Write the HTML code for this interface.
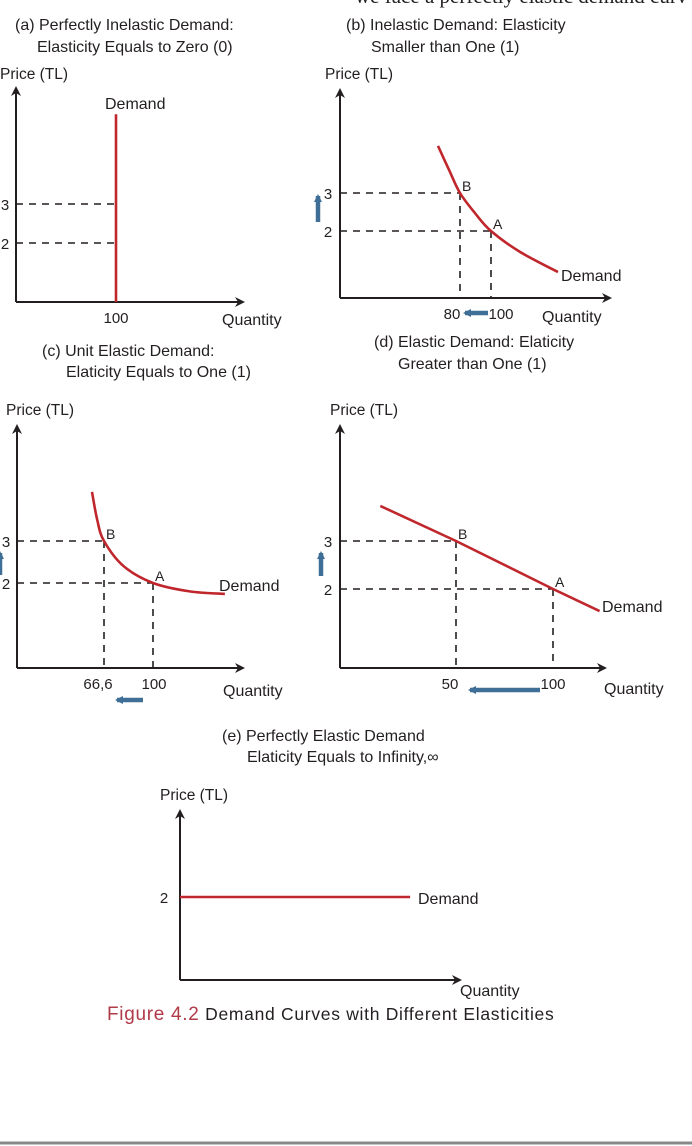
<!DOCTYPE html>
<html><head><meta charset="utf-8">
<style>
html,body{margin:0;padding:0;background:#fff;width:692px;height:1146px;overflow:hidden}
svg{display:block}
text{font-family:"Liberation Sans",sans-serif;fill:#231f20}
</style></head>
<body>
<svg id="fig" width="692" height="1146" viewBox="0 0 692 1146" xmlns="http://www.w3.org/2000/svg">
<defs>
<marker id="ah" markerWidth="10" markerHeight="10" refX="8" refY="5" orient="auto" markerUnits="userSpaceOnUse"><path d="M0,0 L10,5 L0,10 L3,5 z" fill="#231f20"/></marker>
<marker id="bh" markerWidth="8" markerHeight="8" refX="6" refY="4" orient="auto" markerUnits="userSpaceOnUse"><path d="M0,0 L8,4 L0,8 z" fill="#3f6e96"/></marker>
</defs>
<text x="355" y="3" style="font-family:'Liberation Serif',serif" font-size="21">we face a perfectly elastic demand curv</text>
<line x1="0" y1="1143" x2="692" y2="1143" stroke="#888" stroke-width="3"/>
<text x="107" y="1020" font-size="17.5" letter-spacing="0.7"><tspan style="fill:#b03a48" font-size="19">Figure 4.2</tspan> Demand Curves with Different Elasticities</text>
</svg>
<script>
// Panel data
const pricesA = [3, 2];
const qtyA = [100];
const demandA = [[100, 0], [100, 5.3]];
const pricesB = [3, 2];
const qtyB = [80, 100];
const curveB = [[65.8, 4.24], [72.9, 3.61], [80, 3], [89.7, 2.47], [100, 2], [118.7, 1.45], [143.2, 0.92]];
const pricesC = [3, 2];
const qtyC = [66.6, 100];
const qtyLabelsC = ["66,6", "100"];
const curveC = [[58.4, 4.17], [62, 3.5], [66.6, 3], [80, 2.4], [100, 2], [125, 1.8], [149, 1.74]];
const pricesD = [3, 2];
const qtyD = [50, 100];
const lineD = [[11, 3.73], [50, 3], [100, 2], [124, 1.54]];
const pricesE = [2];
const demandE = [[0, 2], [118, 2]];

const svg = document.getElementById('fig');
const NS = 'http://www.w3.org/2000/svg';
function mk(tag, attrs, txt){const e=document.createElementNS(NS,tag);for(const k in attrs)e.setAttribute(k,attrs[k]);if(txt!==undefined)e.textContent=txt;svg.appendChild(e);return e;}
const RED='#c0272d', BLUE='#3f6e96', INK='#231f20';

function panel(p){
  const X=q=>p.x0+(q-p.q0)*p.sx, Y=v=>p.y0-(v-p.p0)*p.sy;
  let e;
  p.titles.forEach((t,i)=>{e=mk('text',{x:t[0],y:t[1],'font-size':16},t[2]);
  
  });
  e=mk('text',{x:p.plx,y:p.ply,'font-size':15.5},'Price (TL)');
  
  
  e=mk('line',{x1:p.ax,y1:p.ay,x2:p.ax,y2:p.atop,stroke:INK,'stroke-width':2,'marker-end':'url(#ah)'});
  
  
  e=mk('line',{x1:p.ax,y1:p.ay,x2:p.aright,y2:p.ay,stroke:INK,'stroke-width':2,'marker-end':'url(#ah)'});
  
  
  e=mk('text',{x:p.qlx,y:p.qly,'font-size':16},'Quantity');
  
  
  p.prices.forEach((v,i)=>{
    const xe = p.guideX ? X(p.guideX[i]) : X(p.vline);
    e=mk('line',{x1:p.ax,y1:Y(v),x2:xe,y2:Y(v),stroke:INK,'stroke-width':1.6,'stroke-dasharray':'7,6'});
    
    
    e=mk('text',{x:p.ax-(p.tickOff||12),y:Y(v)+6,'font-size':15,'text-anchor':'middle'},String(v));
    
    
  });
  if(p.qty){p.qty.forEach((q,i)=>{
    if(p.vguides){e=mk('line',{x1:X(q),y1:Y(p.prices[i]),x2:X(q),y2:p.ay,stroke:INK,'stroke-width':1.6,'stroke-dasharray':'7,6'});
    
    }
    e=mk('text',{x:X(q)+(p.qoff?p.qoff[i]:0),y:p.ay+21,'font-size':15,'text-anchor':'middle'},p.qlabels?p.qlabels[i]:String(q));
    
    
  });}
  const pts=p.curve.map(c=>[X(c[0]),Math.min(Y(c[1]),p.ay)]);
  let d='M'+pts[0][0]+','+pts[0][1];
  if(p.smooth){for(let i=0;i<pts.length-1;i++){const p0=pts[Math.max(0,i-1)],p1=pts[i],p2=pts[i+1],p3=pts[Math.min(pts.length-1,i+2)];
    d+=' C'+(p1[0]+(p2[0]-p0[0])/6)+','+(p1[1]+(p2[1]-p0[1])/6)+' '+(p2[0]-(p3[0]-p1[0])/6)+','+(p2[1]-(p3[1]-p1[1])/6)+' '+p2[0]+','+p2[1];}}
  else pts.slice(1).forEach(q=>d+=' L'+q[0]+','+q[1]);
  e=mk('path',{d:d,fill:'none',stroke:RED,'stroke-width':2.6});
  
  
  e=mk('text',{x:p.dlx,y:p.dly,'font-size':16},'Demand');
  
  
  if(p.points){p.points.forEach(pt=>{
    e=mk('text',{x:X(pt[1])+2,y:Y(pt[2])-2,'font-size':14},pt[0]);
    
    });}
  if(p.upArrow){e=mk('line',{x1:p.upArrow[0],y1:p.upArrow[1],x2:p.upArrow[0],y2:p.upArrow[2],stroke:BLUE,'stroke-width':4.5,'marker-end':'url(#bh)'});
    
    }
  if(p.leftArrow){e=mk('line',{x1:p.leftArrow[0],y1:p.leftArrow[2],x2:p.leftArrow[1],y2:p.leftArrow[2],stroke:BLUE,'stroke-width':4.5,'marker-end':'url(#bh)'});
    
    }
}

panel({id:'panel-a',titles:[[15,30,'(a) Perfectly Inelastic Demand:'],[37,52,'Elasticity Equals to Zero (0)']],
 plx:0,ply:79,ax:16,ay:302,atop:88,aright:243,qlx:222,qly:325,
 x0:16,q0:0,sx:1,y0:243,p0:2,sy:39,prices:pricesA,vline:100,qty:qtyA,vguides:false,tickOff:11,
 curve:demandA,smooth:false,dlx:105,dly:109});
panel({id:'panel-b',titles:[[346,30,'(b) Inelastic Demand: Elasticity'],[371,52,'Smaller than One (1)']],
 plx:325,ply:79,ax:340,ay:298,atop:90,aright:610,qlx:542,qly:322,
 x0:491,q0:100,sx:1.55,y0:231,p0:2,sy:38,prices:pricesB,guideX:qtyB,qty:qtyB,vguides:true,qoff:[-8,10],
 curve:curveB,smooth:true,dlx:561,dly:281,points:[['B',80,3],['A',100,2]],upArrow:[318,222,196],leftArrow:[488,465,313]});
panel({id:'panel-c',titles:[[42,356,'(c) Unit Elastic Demand:'],[66,377,'Elaticity Equals to One (1)']],
 plx:6,ply:415,ax:17,ay:668,atop:426,aright:243,qlx:223,qly:696,
 x0:153,q0:100,sx:1.467,y0:583,p0:2,sy:42,prices:pricesC,guideX:qtyC,qty:qtyC,qlabels:qtyLabelsC,vguides:true,qoff:[-6,1],tickOff:11,
 curve:curveC,smooth:true,dlx:219,dly:591,points:[['B',66.6,3],['A',100,2]],upArrow:[0,575,553],leftArrow:[143,117,700]});
panel({id:'panel-d',titles:[[374,347,'(d) Elastic Demand: Elaticity'],[398,369,'Greater than One (1)']],
 plx:330,ply:415,ax:340,ay:668,atop:426,aright:605,qlx:604,qly:694,
 x0:553,q0:100,sx:1.94,y0:589,p0:2,sy:48,prices:pricesD,guideX:qtyD,qty:qtyD,vguides:true,qoff:[-6,0],
 curve:lineD,smooth:false,dlx:602,dly:612,points:[['B',50,3],['A',100,2]],upArrow:[321,576,553],leftArrow:[540,470,690]});
panel({id:'panel-e',titles:[[222,741,'(e) Perfectly Elastic Demand'],[247,762,'Elaticity Equals to Infinity,∞']],
 plx:160,ply:800,ax:180,ay:980,atop:811,aright:460,qlx:460,qly:996,
 x0:180,q0:0,sx:1.95,y0:897,p0:2,sy:40,prices:pricesE,guideX:[0],tickOff:16,
 curve:demandE,smooth:false,dlx:418,dly:904});
</script>
</body></html>
